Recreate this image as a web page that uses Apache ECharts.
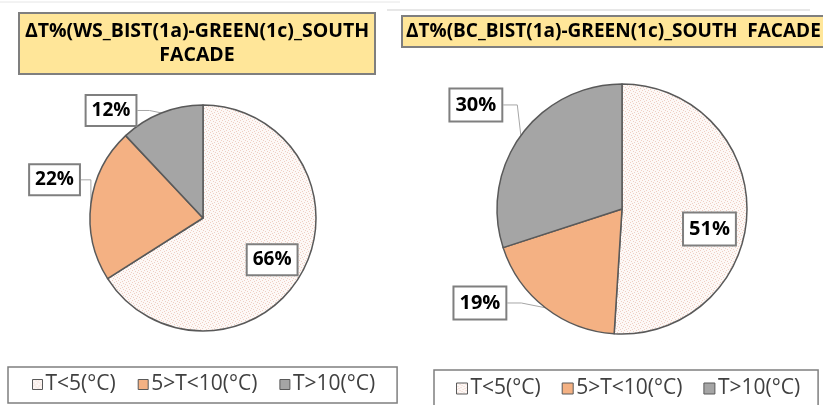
<!DOCTYPE html>
<html>
<head>
<meta charset="utf-8">
<script src="https://cdn.jsdelivr.net/npm/echarts@6/dist/echarts.min.js"></script>
<style>
  html, body { margin: 0; padding: 0; background: #fff; }
  #main { width: 823px; height: 405px; }
</style>
</head>
<body>
<div id="main"></div>
<script>
// data
const categories = ['T<5(°C)', '5>T<10(°C)', 'T>10(°C)']
const wsValues = [66, 22, 12]   // WS_BIST(1a)-GREEN(1c) south facade
const bcValues = [51, 19, 30]   // BC_BIST(1a)-GREEN(1c) south facade
const titles = ['ΔT%(WS_BIST(1a)-GREEN(1c)_SOUTH\nFACADE', 'ΔT%(BC_BIST(1a)-GREEN(1c)_SOUTH  FACADE']

// label nudges [dx, dy] per series / slice
const labelShift = [
  [[17, 13], [13, -23], [-6, 5]],
  [[22, 18], [-10, -19], [14, -20]]
]

// dotted fill for the T<5 slice
function dots() {
  const c = document.createElement('canvas')
  c.width = 6; c.height = 6
  const ctx = c.getContext('2d')
  ctx.fillStyle = '#fdf8f6'
  ctx.fillRect(0, 0, 6, 6)
  ctx.fillStyle = '#efcfc4'
  ;[[0, 0], [3, 1], [1, 3], [4, 4], [5, 2], [2, 5]].forEach(p => ctx.fillRect(p[0], p[1], 1, 1))
  return c
}
const colors = [{ image: dots(), repeat: 'repeat' }, '#f4b183', '#a5a5a5']

function slices(values) {
  return values.map((v, i) => ({
    name: categories[i],
    value: v,
    itemStyle: { color: colors[i] },
    label: { position: i === 0 ? 'inside' : 'outside' }
  }))
}

// move label box centre by the nudge, so the leader line gets re-routed
function moveLabel(s) {
  return p => {
    const r = p.labelRect
    const d = labelShift[s][p.dataIndex]
    return {
      x: r.x + r.width / 2 + d[0],
      y: r.y + r.height / 2 + d[1],
      align: 'center',
      verticalAlign: 'middle'
    }
  }
}

const labelBox = {
  formatter: '{c}%',
  color: '#000',
  fontFamily: 'Open Sans',
  fontWeight: 'bold',
  fontSize: 19,
  backgroundColor: '#fff',
  borderColor: '#7f7f7f',
  borderWidth: 2,
  padding: [6, 5, 4, 5]
}

const chart = echarts.init(document.getElementById('main'))
chart.setOption({
  animation: false,
  title: [{
    text: titles[0],
    left: 191, top: 13, textAlign: 'center',
    padding: [6, 6, 7, 6],
    backgroundColor: '#ffe699', borderColor: '#7f7f7f', borderWidth: 2,
    textStyle: { fontFamily: 'Open Sans', fontWeight: 'bold', fontSize: 19.5, lineHeight: 24, color: '#000' }
  }, {
    text: titles[1],
    left: 402, top: 16, textAlign: 'left',
    padding: [3, 4, 3, 4],
    backgroundColor: '#ffe699', borderColor: '#7f7f7f', borderWidth: 2,
    textStyle: { fontFamily: 'Open Sans', fontWeight: 'bold', fontSize: 19, lineHeight: 25, color: '#000' }
  }],
  legend: [{
    data: categories,
    left: 8, top: 367,
    padding: [7, 22, 8, 24],
    itemGap: 22, itemWidth: 10, itemHeight: 10,
    borderColor: '#7f7f7f', borderWidth: 1.5,
    icon: 'rect',
    itemStyle: { borderColor: '#595959', borderWidth: 1 },
    textStyle: { fontFamily: 'Open Sans', fontSize: 21, color: '#404040', padding: [0, 0, 0, -2] }
  }, {
    data: categories,
    left: 434, top: 370,
    padding: [8, 18, 8, 22],
    itemGap: 21, itemWidth: 11, itemHeight: 11,
    borderColor: '#7f7f7f', borderWidth: 1.5,
    icon: 'rect',
    itemStyle: { borderColor: '#595959', borderWidth: 1 },
    textStyle: { fontFamily: 'Open Sans', fontSize: 21, color: '#404040', padding: [0, 0, 0, -2] }
  }],
  series: [{
    type: 'pie',
    center: [203, 218], radius: 113,
    startAngle: 90, clockwise: true,
    avoidLabelOverlap: false,
    itemStyle: { borderColor: '#595959', borderWidth: 1.5 },
    label: labelBox,
    labelLine: { length: 8, length2: 12, lineStyle: { color: '#a6a6a6', width: 1 } },
    labelLayout: moveLabel(0),
    emphasis: { disabled: true },
    data: slices(wsValues)
  }, {
    type: 'pie',
    center: [622, 209], radius: 125,
    startAngle: 90, clockwise: true,
    avoidLabelOverlap: false,
    itemStyle: { borderColor: '#595959', borderWidth: 1.5 },
    label: Object.assign({}, labelBox, { fontSize: 20, padding: [6, 5, 5, 5] }),
    labelLine: { length: 18, length2: 14, lineStyle: { color: '#a6a6a6', width: 1 } },
    labelLayout: moveLabel(1),
    emphasis: { disabled: true },
    data: slices(bcValues)
  }],
  graphic: [
    { type: 'line', shape: { x1: 0, y1: 2, x2: 400, y2: 2 }, style: { stroke: '#e6e6e6', lineWidth: 1 } },
    { type: 'line', shape: { x1: 387, y1: 10, x2: 810, y2: 10 }, style: { stroke: '#cfcfcf', lineWidth: 1 } }
  ]
})
</script>
</body>
</html>
